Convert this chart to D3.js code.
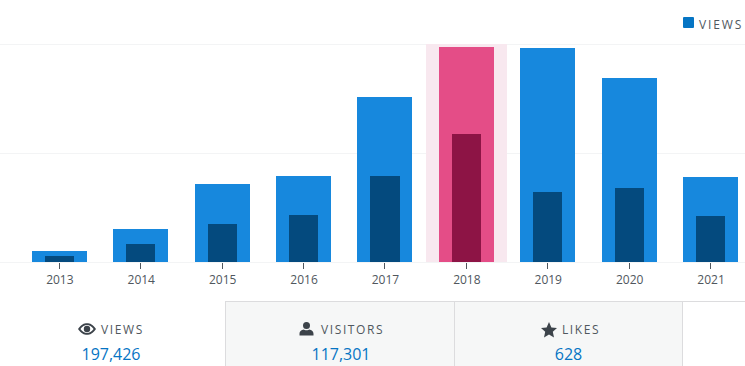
<!DOCTYPE html>
<html>
<head>
<meta charset="utf-8">
<script src="https://cdn.jsdelivr.net/npm/d3@7"></script>
<style>
html, body { margin: 0; padding: 0; background: #fff; }
svg { display: block; overflow: visible; font-family: "Open Sans", sans-serif; }
</style>
</head>
<body>
<svg id="chart" width="745" height="366"></svg>
<script>
const years = ['2013', '2014', '2015', '2016', '2017', '2018', '2019', '2020', '2021'];
const views = [2000, 6100, 14300, 15800, 30300, 39500, 39300, 33800, 15600];
const visitors = [1100, 3300, 7000, 8600, 15800, 23500, 12800, 13600, 8400];
const gridValues = [0, 20000, 40000];
const selectedYear = '2018';
const summaryLabels = ['VIEWS', 'VISITORS', 'LIKES'];
const summaryValues = ['197,426', '117,301', '628'];

let svg = d3.select('#chart');

let x = d3.scaleBand().domain(years).range([18.65, 751.25]);
let y = d3.scaleLinear().domain([0, 40000]).range([262, 44]);

let outerWidth = 55, innerWidth = 29.3;

// grid
svg.selectAll('.grid')
    .data(gridValues)
    .enter()
    .append('line')
    .attr('x1', 0)
    .attr('x2', 745)
    .attr('y1', d => y(d) + 0.5)
    .attr('y2', d => y(d) + 0.5)
    .attr('stroke', '#f3f4f5');

// highlight behind selected year
svg.append('rect')
    .attr('x', x(selectedYear))
    .attr('y', y(40000))
    .attr('width', x.bandwidth())
    .attr('height', y(0) - y(40000))
    .attr('shape-rendering', 'crispEdges')
    .attr('fill', '#f8e8ef');

let center = d => x(d) + x.bandwidth() / 2;

svg.selectAll('.views')
    .data(years)
    .enter()
    .append('rect')
    .attr('x', d => center(d) - outerWidth / 2)
    .attr('y', (d, i) => y(views[i]))
    .attr('width', outerWidth)
    .attr('height', (d, i) => y(0) - y(views[i]))
    .attr('shape-rendering', 'crispEdges')
    .attr('fill', d => d == selectedYear ? '#e44d87' : '#1788dd');

svg.selectAll('.visitors')
    .data(years)
    .enter()
    .append('rect')
    .attr('x', d => center(d) - innerWidth / 2)
    .attr('y', (d, i) => y(visitors[i]))
    .attr('width', innerWidth)
    .attr('height', (d, i) => y(0) - y(visitors[i]))
    .attr('shape-rendering', 'crispEdges')
    .attr('fill', d => d == selectedYear ? '#8d1445' : '#044a7e');

// x axis
let axis = svg.append('g')
    .attr('transform', 'translate(0,262)')
    .call(d3.axisBottom(x).tickSize(5).tickSizeOuter(0).tickPadding(8));
axis.select('.domain').remove();
axis.selectAll('line')
    .attr('stroke', '#50575e')
    .attr('shape-rendering', 'crispEdges')
    .attr('y1', 1)
    .attr('y2', 7);
axis.selectAll('text')
    .attr('x', 0.5)
    .attr('font-family', '"Open Sans", sans-serif')
    .attr('font-size', 12)
    .attr('fill', '#50575e');

// legend
svg.append('rect')
    .attr('x', 683)
    .attr('y', 17)
    .attr('width', 11)
    .attr('height', 11)
    .attr('rx', 1)
    .attr('fill', '#0675c4');
svg.append('text')
    .attr('x', 699)
    .attr('y', 28.5)
    .attr('font-size', 12)
    .attr('letter-spacing', 1.9)
    .attr('fill', '#50575e')
    .text('VIEWS');

// summary tabs
let tabEdges = [225, 454, 682];
svg.append('rect')
    .attr('x', 225)
    .attr('y', 301)
    .attr('width', 457)
    .attr('height', 65)
    .attr('fill', '#f6f7f7');
svg.append('line')
    .attr('x1', 225)
    .attr('x2', 745)
    .attr('y1', 301.5)
    .attr('y2', 301.5)
    .attr('stroke', '#dcdcde');
svg.selectAll('.tabline')
    .data(tabEdges)
    .enter()
    .append('line')
    .attr('x1', d => d + 0.5)
    .attr('x2', d => d + 0.5)
    .attr('y1', 301)
    .attr('y2', 366)
    .attr('stroke', '#dcdcde');

let tabCenters = [110, 340, 568];
let labelStart = [101, 321, 562];
let icons = [
    'M-9 0C-6 -4.6 -3 -5.8 0 -5.8C3 -5.8 6 -4.6 9 0C6 4.6 3 5.8 0 5.8C-3 5.8 -6 4.6 -9 0ZM-6.6 0C-4.6 2.9 -2.4 4 0 4C2.4 4 4.6 2.9 6.6 0C4.6 -2.9 2.4 -4 0 -4C-2.4 -4 -4.6 -2.9 -6.6 0ZM0 -3.2A3.2 3.2 0 1 1 0 3.2A3.2 3.2 0 1 1 0 -3.2Z',
    'M0 -7A3.5 3.5 0 1 1 0 0A3.5 3.5 0 1 1 0 -7ZM-7 5C-7 2 -4.5 1 -3 0.6C-2 1.5 2 1.5 3 0.6C4.5 1 7 2 7 5V6.5H-7Z',
    'M0 -8L2.4 -2.5L8 -2L3.8 1.8L5 7.5L0 4.6L-5 7.5L-3.8 1.8L-8 -2L-2.4 -2.5Z'
];
let iconX = [87, 306.5, 549];
let iconY = [329, 329, 330];

svg.selectAll('.tabicon')
    .data(icons)
    .enter()
    .append('path')
    .attr('d', d => d)
    .attr('fill-rule', 'evenodd')
    .attr('fill', '#3c434a')
    .attr('transform', (d, i) => 'translate(' + iconX[i] + ',' + iconY[i] + ')');

svg.selectAll('.tablabel')
    .data(summaryLabels)
    .enter()
    .append('text')
    .attr('x', (d, i) => labelStart[i])
    .attr('y', 334)
    .attr('font-size', 12)
    .attr('letter-spacing', 1.6)
    .attr('fill', '#50575e')
    .text(d => d);

svg.selectAll('.tabvalue')
    .data(summaryValues)
    .enter()
    .append('text')
    .attr('x', (d, i) => tabCenters[i] + (i == 2 ? 0.5 : 1))
    .attr('y', 360)
    .attr('text-anchor', 'middle')
    .attr('font-size', 16)
    .attr('fill', '#0675c4')
    .text(d => d);
</script>
</body>
</html>
